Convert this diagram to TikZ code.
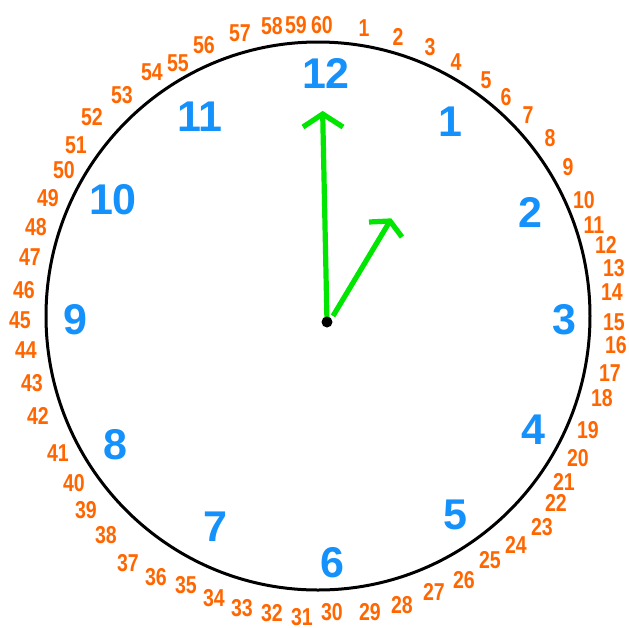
\documentclass[tikz,border=0pt]{standalone}
\usepackage{fontspec}
\setmainfont{Liberation Sans}
\newfontfamily\minfont[FakeStretch=0.8]{Liberation Sans}
\definecolor{hourblue}{RGB}{20,145,250}
\definecolor{minorange}{RGB}{255,102,0}
\definecolor{handgreen}{RGB}{0,230,0}
\begin{document}
\begin{tikzpicture}[x=0.5pt,y=-0.5pt,
  hournum/.style={text=hourblue,font=\fontsize{21.5}{21.5}\selectfont\bfseries,inner sep=0pt},
  minnum/.style={text=minorange,font=\minfont\fontsize{12.2}{12.2}\selectfont\bfseries,inner sep=0pt},
  hand/.style={draw=handgreen,line width=2.6pt,line cap=butt,line join=miter}]
\useasboundingbox[fill=white] (0,0) rectangle (628,628);
\draw[line width=1.5pt] (318,316) ellipse [x radius=272, y radius=274];
\foreach \n/\x/\y in {1/450/122,2/530/212,3/564/320,4/533/430,5/455/515,6/332/563,7/215/527,8/115/445,9/75/320,10/113/200,11/200/117,12/326/73}
  \node[hournum] (h\n) at (\x,\y) {\n};
\foreach \n/\x/\y in {60/322/25,59/296/25,58/272/26,57/240/33,56/204/45,55/178/63,54/152/72,53/122/95,52/92/117,51/76/145,50/64/170,49/48/198,
  1/364/28,2/398/37,3/430/47,4/456/62,5/486/80,6/506/97,7/528/115,8/550/138,9/568/167,10/584/200,
  48/36/227,47/30/257,46/24/290,45/20/320,44/26/350,43/32/383,42/38/416,
  11/594/225,12/606/245,13/614/268,14/612/292,15/614/322,16/616/345,17/610/373,18/602/398,
  41/58/453,40/74/483,39/86/510,38/106/535,37/128/563,36/156/577,35/186/585,34/214/598,33/242/608,32/272/613,31/302/617,30/332/612,29/370/612,28/402/605,27/434/592,26/464/580,25/490/560,24/516/545,23/542/527,22/556/503,21/564/482,20/578/458,19/588/430}
  \node[minnum] (m\n) at (\x,\y) {\n};
\coordinate (mstart) at (327,322);
\coordinate (mtip) at (322.7,114);
\coordinate (mbl) at (303,127);
\coordinate (mbr) at (343,127);
\coordinate (hstart) at (333,316);
\coordinate (htip) at (390,221);
\coordinate (hbl) at (369,222);
\coordinate (hbr) at (402,237);
\draw[hand] (mstart) -- (mtip);
\draw[hand] (mbl) -- (mtip) -- (mbr);
\draw[hand] (hstart) -- (htip);
\draw[hand] (hbl) -- (htip) -- (hbr);
\node[circle,fill=black,inner sep=0pt,minimum size=5.5pt] (dot) at (327,322) {};
\end{tikzpicture}
\end{document}
